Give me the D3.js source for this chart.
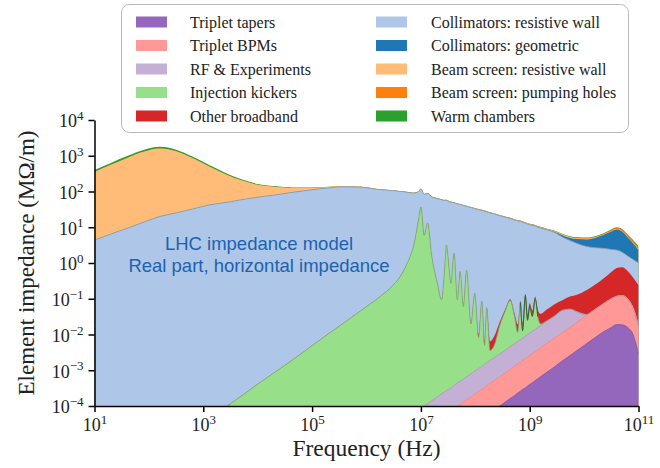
<!DOCTYPE html>
<html>
<head>
<meta charset="utf-8">
<script src="https://cdn.jsdelivr.net/npm/d3@7"></script>
<style>
  body { margin: 0; background: #fff; }
  svg { display: block; }
</style>
</head>
<body>
<svg id="chart" width="660" height="468"></svg>
<script>
// Frequency grid (Hz)
const freq = [
  1e1, 2e1, 3.98e1, 7.94e1, 1.58e2, 3.16e2, 6.31e2, 1.26e3, 2.75e3, 5.01e3,
  1e4, 2e4, 4.47e4, 1e5, 2e5, 3.98e5, 7.94e5, 1.58e6, 3.16e6, 4.17e6,
  5.25e6, 6.31e6, 7.41e6, 8.32e6, 9.12e6, 1e7, 1.15e7, 1.33e7, 1.58e7, 2e7,
  2.4e7, 2.69e7, 2.95e7, 3.31e7, 3.55e7, 4.07e7, 4.68e7, 5.25e7, 6.03e7, 6.92e7,
  8.32e7, 9.77e7, 1.15e8, 1.32e8, 1.48e8, 1.62e8, 1.86e8, 2.24e8, 2.82e8, 3.55e8,
  4.37e8, 5.25e8, 6.03e8, 6.76e8, 7.41e8, 8.32e8, 9.12e8, 1e9, 1.12e9, 1.26e9,
  1.41e9, 1.58e9, 2e9, 2.82e9, 4.07e9, 5.5e9, 7.41e9, 1.12e10, 1.58e10, 2.24e10,
  3.16e10, 3.98e10, 5.01e10, 6.31e10, 7.94e10, 1e11
];

// Real part of the horizontal impedance per element (MOhm/m), on the grid above
const tripletTapers = [
  0, 0, 0, 0, 0, 0, 0, 0, 0, 0,
  0, 0, 0, 0, 0, 0, 0, 0, 0, 0,
  0, 0, 0, 0, 0, 0, 0, 0, 0, 0,
  0, 0, 0, 0, 0, 0, 0, 0, 0, 0,
  0, 0, 3.7e-5, 4.4e-5, 4.9e-5, 5.5e-5, 6.3e-5, 7.8e-5, 1.0e-4, 1.29e-4,
  1.62e-4, 1.95e-4, 2.3e-4, 2.6e-4, 2.9e-4, 3.2e-4, 3.6e-4, 4.0e-4, 4.5e-4, 5.1e-4,
  5.8e-4, 6.6e-4, 8.5e-4, 1.23e-3, 1.86e-3, 2.57e-3, 3.55e-3, 5.6e-3, 8.1e-3, 1.17e-2,
  1.58e-2, 1.9e-2, 1.86e-2, 1.58e-2, 1.0e-2, 2.8e-3
];
const tripletBPMs = [
  0, 0, 0, 0, 0, 0, 0, 0, 0, 0,
  0, 0, 0, 0, 0, 0, 0, 0, 0, 0,
  0, 0, 0, 0, 0, 0, 0, 0, 0, 0,
  0, 0, 6.0e-5, 6.7e-5, 7.2e-5, 8.5e-5, 9.8e-5, 1.1e-4, 1.28e-4, 1.48e-4,
  1.8e-4, 2.1e-4, 2.2e-4, 2.5e-4, 2.8e-4, 3.2e-4, 3.7e-4, 4.4e-4, 5.6e-4, 7.2e-4,
  9.1e-4, 1.1e-3, 1.27e-3, 1.44e-3, 1.57e-3, 1.82e-3, 1.98e-3, 2.17e-3, 2.5e-3, 2.8e-3,
  3.1e-3, 3.6e-3, 4.6e-3, 6.6e-3, 9.8e-3, 1.32e-2, 1.84e-2, 2.94e-2, 4.2e-2, 6.0e-2,
  0.084, 0.0985, 0.104, 0.084, 0.046, 0.015
];
const rfExperiments = [
  0, 0, 0, 0, 0, 0, 0, 0, 0, 0,
  0, 0, 0, 0, 0, 0, 0, 0, 2.6e-5, 3.5e-5,
  4.4e-5, 5.4e-5, 6.3e-5, 7.1e-5, 7.8e-5, 8.7e-5, 1.0e-4, 1.17e-4, 1.4e-4, 1.8e-4,
  2.2e-4, 2.45e-4, 2.1e-4, 2.33e-4, 2.48e-4, 2.95e-4, 3.42e-4, 3.8e-4, 4.42e-4, 5.12e-4,
  6.2e-4, 7.4e-4, 8.6e-4, 1.0e-3, 1.14e-3, 1.25e-3, 1.43e-3, 1.72e-3, 2.22e-3, 2.75e-3,
  3.5e-3, 4.2e-3, 4.9e-3, 5.5e-3, 6.0e-3, 6.8e-3, 7.7e-3, 8.4e-3, 9.4e-3, 1.05e-2,
  1.21e-2, 1.35e-2, 1.7e-2, 2.42e-2, 3.63e-2, 3.52e-2, 2.11e-2, 1e-3, 0, 0,
  0, 0, 0, 0, 0, 0
];
const injectionKickers = [
  0, 0, 0, 0, 0, 0, 0, 4.3e-5, 1e-4, 1.9e-4,
  4.1e-4, 8.5e-4, 2.0e-3, 4.9e-3, 0.0105, 0.022, 0.047, 0.1, 0.25, 0.42,
  0.8, 1.5, 3.2, 7.9, 17.8, 37, 6.0, 13.2, 1.6, 0.28,
  0.093, 0.5, 3.2, 0.63, 0.27, 1.86, 0.093, 0.58, 0.06, 0.63,
  0.019, 0.14, 0.007, 0.083, 0.0035, 0.054, 0.0017, 0.0028, 0.015, 0.0415,
  0.085, 0.027, 0.005, 0.072, 0.0047, 0.117, 0.015, 0.052, 0.02, 0.086,
  0.016, 0.002, 0.001, 0.0005, 0, 0, 0, 0, 0, 0,
  0, 0, 0, 0, 0, 0
];
const otherBroadband = [
  0, 0, 0, 0, 0, 0, 0, 0, 0, 0,
  0, 0, 0, 0, 0, 0, 0, 0, 0, 0,
  0, 0, 0, 0, 0, 0, 0, 0, 0, 0,
  0, 0, 0, 0, 0, 0, 0, 0, 0, 0,
  0.0005, 0.001, 0.002, 0.002, 0.0018, 0.002, 0.0028, 0.004, 0.005, 0.006,
  0.007, 0.0075, 0.008, 0.008, 0.009, 0.01, 0.011, 0.012, 0.014, 0.015,
  0.017, 0.018, 0.025, 0.037, 0.044, 0.064, 0.086, 0.14, 0.195, 0.29,
  0.46, 0.61, 0.64, 0.50, 0.34, 0.22
];
const collimatorsRW = [
  4.37, 6.46, 9.33, 13.8, 20.0, 25.1, 32.4, 41.7, 50.1, 58.9,
  69.2, 79.4, 95.5, 112, 126, 135, 132, 115, 105, 100,
  95.5, 91.2, 87.1, 85.1, 83.2, 81.3, 77.6, 74.1, 69.2, 63.1,
  58.9, 56.2, 53.7, 51.3, 50.1, 46.8, 44.7, 42.7, 40.7, 38.0,
  35.5, 33.1, 30.9, 29.5, 28.2, 26.9, 25.1, 23.4, 20.9, 19.1,
  17.4, 15.8, 15.1, 14.5, 13.8, 12.9, 12.3, 11.7, 11.2, 10.7,
  10.0, 9.5, 8.5, 7.2, 5.16, 4.15, 3.4, 2.7, 2.44, 2.21,
  1.84, 1.57, 1.24, 0.98, 0.86, 0.76
];
const collimatorsGeom = [
  0, 0, 0, 0, 0, 0, 0, 0, 0, 0,
  0, 0, 0, 0, 0, 0, 0, 0, 0, 0,
  0, 0, 0, 0, 0, 0, 0, 0, 0, 0,
  0, 0, 0, 0, 0, 0, 0, 0, 0, 0,
  0, 0, 0, 0, 0, 0, 0, 0, 0, 0,
  0, 0, 0, 0, 0, 0, 0, 0.03, 0.04, 0.05,
  0.06, 0.08, 0.12, 0.22, 0.64, 0.74, 1.13, 1.69, 2.32, 3.46,
  5.19, 6.42, 5.59, 3.67, 2.29, 1.29
];
const beamScreenRW = [
  344, 550, 858, 1276, 1578, 1304, 828, 470, 241, 146,
  85, 57, 30, 15, 7.5, 4.8, 3.5, 2.0, 1.5, 1.4,
  1.35, 1.3, 1.3, 1.25, 1.25, 1.2, 1.2, 1.15, 1.1, 1.05,
  1.0, 1.0, 0.98, 0.96, 0.95, 0.93, 0.9, 0.88, 0.86, 0.84,
  0.82, 0.8, 0.78, 0.76, 0.74, 0.73, 0.71, 0.68, 0.65, 0.62,
  0.6, 0.57, 0.55, 0.54, 0.53, 0.51, 0.5, 0.49, 0.48, 0.46,
  0.45, 0.44, 0.42, 0.39, 0.35, 0.32, 0.3, 0.27, 0.25, 0.23,
  0.22, 0.21, 0.2, 0.18, 0.17, 0.15
];
const beamScreenHoles = [
  0, 0, 0, 0, 0, 0, 0, 0, 0, 0,
  0, 0, 0, 0, 0, 0, 0, 0, 0, 0,
  0, 0, 0, 0, 0, 0, 0, 0, 0, 0,
  0, 0, 0, 0, 0, 0, 0, 0, 0, 0,
  0, 0, 0, 0, 0, 0, 0, 0, 0, 0,
  0, 0, 0, 0, 0, 0, 0, 0, 0, 0,
  0, 0, 0, 0.02, 0.03, 0.04, 0.06, 0.1, 0.15, 0.25,
  0.6, 0.8, 0.8, 0.65, 0.5, 0.35
];
const warmChambers = [
  50, 75, 110, 155, 180, 150, 95, 50, 25, 14,
  8, 5, 3, 2, 1.5, 1.2, 1.0, 0.8, 0.6, 0.5,
  0.5, 0.5, 0.5, 0.5, 0.5, 0.5, 0.5, 0.5, 0.5, 0.5,
  0.5, 0.5, 0.5, 0.5, 0.5, 0.5, 0.5, 0.5, 0.5, 0.5,
  0.3, 0.3, 0.3, 0.3, 0.3, 0.3, 0.3, 0.3, 0.3, 0.3,
  0.3, 0.3, 0.3, 0.3, 0.3, 0.3, 0.3, 0.3, 0.3, 0.3,
  0.2, 0.2, 0.2, 0.2, 0.2, 0.2, 0.2, 0.2, 0.2, 0.2,
  0.2, 0.2, 0.2, 0.2, 0.2, 0.2
];

// Legend labels and colours, bottom of the stack first
const seriesLabels = [
  "Triplet tapers", "Triplet BPMs", "RF & Experiments", "Injection kickers", "Other broadband",
  "Collimators: resistive wall", "Collimators: geometric", "Beam screen: resistive wall",
  "Beam screen: pumping holes", "Warm chambers"
];
const seriesColors = [
  "#9467bd", "#ff9896", "#c5b0d5", "#98df8a", "#d62728",
  "#aec7e8", "#1f77b4", "#ffbb78", "#ff7f0e", "#2ca02c"
];
const seriesEdges = [
  "#7d56a6", "#e98a88", "#ab97bd", "#7fa878", null,
  "#8f9aa6", null, null, null, null
];
const seriesValues = [
  tripletTapers, tripletBPMs, rfExperiments, injectionKickers, otherBroadband,
  collimatorsRW, collimatorsGeom, beamScreenRW, beamScreenHoles, warmChambers
];

const xTicks = [1e1, 1e3, 1e5, 1e7, 1e9, 1e11];
const yTicks = [1e-4, 1e-3, 1e-2, 1e-1, 1e0, 1e1, 1e2, 1e3, 1e4];

const svg = d3.select("#chart");
const plotLeft = 94.5, plotRight = 638.5, plotTop = 120, plotBottom = 406;

const x = d3.scaleLog().domain([1e1, 1e11]).range([plotLeft, plotRight]);
const y = d3.scaleLog().domain([1e-4, 1e4]).range([plotBottom, plotTop]);
const floor = 1e-6;

// Build the table for d3.stack
const keys = seriesLabels.map((_, i) => "s" + i);
const rows = freq.map((f, j) => {
  const r = { f };
  seriesValues.forEach((vals, i) => { r[keys[i]] = vals[j]; });
  return r;
});
const stacked = d3.stack().keys(keys)(rows);

svg.append("defs").append("clipPath").attr("id", "plotClip")
  .append("rect").attr("x", plotLeft).attr("y", plotTop - 40)
  .attr("width", plotRight - plotLeft).attr("height", plotBottom - plotTop + 40);

const plot = svg.append("g").attr("clip-path", "url(#plotClip)");

// Each layer is filled from the floor to its cumulative top, topmost layer first
const fillArea = d3.area()
  .x(d => x(d.data.f))
  .y0(y(floor))
  .y1(d => y(Math.max(d[1], floor)))
  .curve(d3.curveMonotoneX);

for (let i = stacked.length - 1; i >= 0; i--) {
  plot.append("path")
    .attr("d", fillArea(stacked[i]))
    .attr("fill", seriesColors[i]);
}

// Thin edge lines on the upper boundary of some layers
const edgeLine = d3.line()
  .x(d => x(d.data.f))
  .y(d => y(Math.max(d[1], floor)))
  .curve(d3.curveMonotoneX);

for (let i = stacked.length - 1; i >= 0; i--) {
  if (!seriesEdges[i]) continue;
  plot.append("path")
    .attr("d", edgeLine(stacked[i]))
    .attr("fill", "none")
    .attr("stroke", seriesEdges[i])
    .attr("stroke-width", 0.8);
}

// Dense resonances around 1 GHz: darker outline over the kicker layer there
const kickerLayer = stacked[3];
plot.append("path")
  .attr("d", edgeLine(kickerLayer.filter(d => d.data.f >= 6.5e8 && d.data.f <= 1.5e9)))
  .attr("fill", "none")
  .attr("stroke", "#3f5f3c")
  .attr("stroke-width", 1.1);

// Axes
const serif = "'Liberation Serif', 'Times New Roman', serif";
function powerLabel(sel) {
  sel.each(function (d) {
    const t = d3.select(this);
    const e = Math.round(Math.log10(d));
    t.text(null);
    t.append("tspan").text("10");
    t.append("tspan").attr("dy", "-0.55em").attr("font-size", "13px")
      .text(e < 0 ? "\u2212" + (-e) : String(e));
  });
}

const xAxis = svg.append("g")
  .attr("transform", `translate(0,${plotBottom})`)
  .call(d3.axisBottom(x).tickValues(xTicks).tickSize(6).tickPadding(6).tickSizeOuter(0));
const yAxis = svg.append("g")
  .attr("transform", `translate(${plotLeft},0)`)
  .call(d3.axisLeft(y).tickValues(yTicks).tickSize(6).tickPadding(5).tickSizeOuter(0));

[xAxis, yAxis].forEach(ax => {
  ax.select(".domain").attr("stroke", "#000").attr("stroke-width", 1.5);
  ax.selectAll(".tick line").attr("stroke", "#000").attr("stroke-width", 1.5);
  ax.selectAll(".tick text")
    .attr("font-family", serif).attr("font-size", "18px").attr("fill", "#222")
    .call(powerLabel);
});
yAxis.selectAll(".tick text").attr("dy", "0.38em");

svg.append("text")
  .attr("x", (plotLeft + plotRight) / 2).attr("y", 456)
  .attr("text-anchor", "middle")
  .attr("font-family", serif).attr("font-size", "23.5px").attr("fill", "#222")
  .text("Frequency (Hz)");

svg.append("text")
  .attr("transform", `translate(34,${(plotTop + plotBottom) / 2}) rotate(-90)`)
  .attr("text-anchor", "middle")
  .attr("font-family", serif).attr("font-size", "23px").attr("fill", "#222")
  .text("Element impedance (M\u03A9/m)");

// Annotation
const note = svg.append("text")
  .attr("text-anchor", "middle")
  .attr("font-family", "'Liberation Sans', Arial, sans-serif")
  .attr("font-size", "18.5px").attr("fill", "#1c62b0");
note.append("tspan").attr("x", 259).attr("y", 250).text("LHC impedance model");
note.append("tspan").attr("x", 259).attr("y", 272).text("Real part, horizontal impedance");

// Legend
const legend = svg.append("g");
legend.append("rect")
  .attr("x", 121.5).attr("y", 4.5).attr("width", 507).attr("height", 128)
  .attr("rx", 8).attr("fill", "#fff").attr("fill-opacity", 0.9)
  .attr("stroke", "#b8b8b8").attr("stroke-width", 1);

const rowY = [22, 45.5, 69, 92.5, 116];
seriesLabels.forEach((label, i) => {
  const col = i < 5 ? 0 : 1;
  const r = i % 5;
  const sx = col === 0 ? 136 : 376;
  const tx = col === 0 ? 190 : 431;
  legend.append("rect")
    .attr("x", sx).attr("y", rowY[r] - 5.5).attr("width", 31).attr("height", 11)
    .attr("fill", seriesColors[i]);
  legend.append("text")
    .attr("x", tx).attr("y", rowY[r]).attr("dy", "0.35em")
    .attr("font-family", serif).attr("font-size", "16px").attr("fill", "#222")
    .text(label);
});
</script>
</body>
</html>
